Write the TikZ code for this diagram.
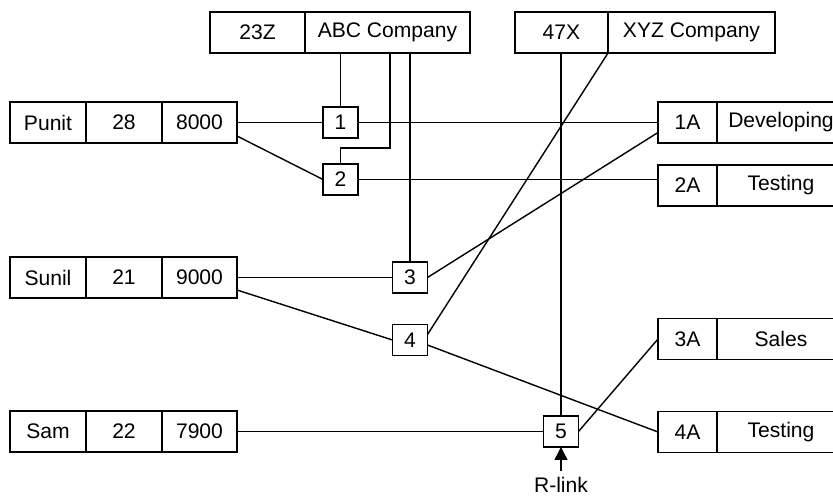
\documentclass[tikz,border=0pt]{standalone}
\usepackage{fontspec}
\setmainfont{Liberation Sans}
\usepackage{tikz}
\usetikzlibrary{arrows.meta}

\begin{document}
\begin{tikzpicture}[x=0.02cm, y=-0.02cm, >={Triangle[length=0.26cm,width=0.26cm]},
    cell/.style={draw, line width=1pt, minimum height=0.82cm, inner sep=0pt, outer sep=0pt, font=\fontsize{12}{14}\selectfont},
    link/.style={draw, line width=1pt, minimum width=0.7cm, minimum height=0.62cm, inner sep=0pt, outer sep=0pt, font=\fontsize{12}{14}\selectfont},
    wire/.style={line width=0.8pt}]
    \useasboundingbox (0,0) rectangle (833,497);

    \node[cell,minimum width=1.9cm] (z23) at (257.5,32.5) {23Z};
    \node[cell,minimum width=3.3cm] (abc) at (387.5,32.5) {ABC Company};
    \node[cell,minimum width=1.86cm] (x47) at (561.5,32.5) {47X};
    \node[cell,minimum width=3.34cm] (xyz) at (691.5,32.5) {XYZ Company};

    \node[cell,minimum width=1.52cm] (punit) at (48,122.5) {Punit};
    \node[cell,minimum width=1.52cm] (p28) at (124,122.5) {28};
    \node[cell,minimum width=1.5cm] (p8000) at (199.5,122.5) {8000};
    \node[cell,minimum width=1.52cm] (sunil) at (48,277.5) {Sunil};
    \node[cell,minimum width=1.52cm] (s21) at (124,277.5) {21};
    \node[cell,minimum width=1.5cm] (s9000) at (199.5,277.5) {9000};
    \node[cell,minimum width=1.52cm] (sam) at (48,431.5) {Sam};
    \node[cell,minimum width=1.52cm] (m22) at (124,431.5) {22};
    \node[cell,minimum width=1.5cm] (m7900) at (199.5,431.5) {7900};

    \node[cell,minimum width=1.18cm] (a1) at (687.5,122.5) {1A};
    \node[cell,minimum width=2.56cm] (dev) at (781,122.5) {Developing};
    \node[cell,minimum width=1.18cm] (a2) at (687.5,185.5) {2A};
    \node[cell,minimum width=2.56cm] (test2) at (781,185.5) {Testing};
    \node[cell,minimum width=1.18cm] (a3) at (687.5,339) {3A};
    \node[cell,minimum width=2.56cm] (sales) at (781,339) {Sales};
    \node[cell,minimum width=1.18cm] (a4) at (687.5,432) {4A};
    \node[cell,minimum width=2.56cm] (test4) at (781,432) {Testing};

    \node[link] (b1) at (340.5,122.5) {1};
    \node[link] (b2) at (340.5,179.5) {2};
    \node[link] (b3) at (410,277.5) {3};
    \node[link] (b4) at (410,340) {4};
    \node[link] (b5) at (561,431.5) {5};
    \coordinate (k2) at (390,148);

    \node[font=\fontsize{12}{14}\selectfont] (rlink) at (561,485) {R-link};

    \draw[wire] (b1.north |- abc.south) -- (b1.north);
    \draw[wire] (k2 |- abc.south) -- (k2) -| (b2.north);
    \draw[wire] (b3.north |- abc.south) -- (b3.north);
    \draw[wire] (b5.north |- x47.south) -- (b5.north);
    \draw[wire] (xyz.south west) -- ([yshift=-0.2cm]b4.north east);

    \draw[wire] (p8000.east) -- (b1.west);
    \draw[wire] (b1.east) -- (a1.west);
    \draw[wire] ([yshift=0.14cm]p8000.south east) -- (b2.west);
    \draw[wire] (b2.east) -- (b2.east -| a2.west);

    \draw[wire] (s9000.east) -- (b3.west);
    \draw[wire] (b3.east) -- ([yshift=-0.2cm]a1.west);
    \draw[wire] ([yshift=0.16cm]s9000.south east) -- (b4.west);
    \draw[wire] ([yshift=-0.1cm]b4.east) -- (a4.west);

    \draw[wire] (m7900.east) -- (b5.west);
    \draw[wire] (b5.east) -- (a3.west);
    \draw[wire,->] (rlink.north) -- (b5.south);
\end{tikzpicture}
\end{document}
